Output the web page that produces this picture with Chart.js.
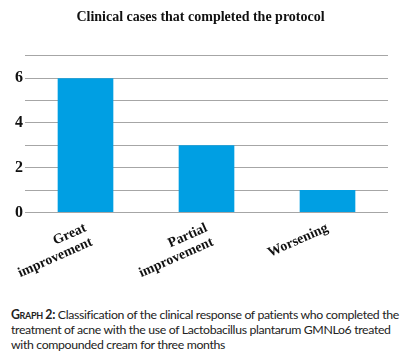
<!DOCTYPE html>
<html lang="en">
<head>
  <meta charset="UTF-8">
  <title>Clinical cases that completed the protocol</title>
  <script src="https://cdn.jsdelivr.net/npm/chart.js"></script>
  <style>
    body { margin: 0; background: #fff; width: 408px; }
    .box { position: relative; width: 408px; height: 281px; }
    .legenda { margin: 26px 0 0 11px; width: 397px; font-family: Lato, sans-serif; font-size: 12.3px; letter-spacing: -0.35px; line-height: 15px; color: #222; white-space: nowrap; }
    .legenda b { font-variant: small-caps; }
  </style>
</head>
<body>
  <div class="box"><canvas id="grafico"></canvas></div>
  <div class="legenda"><b>Graph 2:</b> Classification of the clinical response of patients who completed the<br>treatment of acne with the use of Lactobacillus plantarum GMNLo6 treated<br>with compounded cream for three months</div>

  <script>
    // dados
    const categorias = [['Great', 'improvement'], ['Partial', 'improvement'], ['Worsening']];
    const casos = [6, 3, 1];
    const rotulosY = [0, 2, 4, 6];

    new Chart(document.getElementById('grafico'), {
      type: 'bar',
      data: {
        labels: categorias,
        datasets: [{ data: casos, backgroundColor: '#009fe3', barPercentage: 0.46, categoryPercentage: 1 }]
      },
      options: {
        responsive: true,
        maintainAspectRatio: false,
        animation: false,
        layout: { padding: { left: 13, right: 20, top: 0, bottom: 0 } },
        plugins: {
          legend: { display: false },
          tooltip: { enabled: false },
          title: {
            display: true,
            text: 'Clinical cases that completed the protocol',
            color: '#111',
            font: { family: '"Liberation Serif", serif', size: 14, weight: 'bold' },
            padding: { top: 9, bottom: 30 }
          }
        },
        scales: {
          x: {
            grid: { display: false },
            border: { display: false },
            ticks: {
              color: '#111',
              minRotation: 24, maxRotation: 24,
              padding: 0,
              font: { family: '"Liberation Serif", serif', size: 14, weight: 'bold', lineHeight: 1.1 }
            }
          },
          y: {
            min: 0, max: 7,
            border: { display: false },
            grid: { color: '#a6a6a6', drawTicks: false, lineWidth: 1 },
            ticks: {
              stepSize: 1,
              padding: 2,
              color: '#111',
              font: { family: '"Liberation Serif", serif', size: 16, weight: 'bold' },
              callback: v => rotulosY.includes(v) ? v : ''
            }
          }
        }
      }
    });
  </script>
</body>
</html>
